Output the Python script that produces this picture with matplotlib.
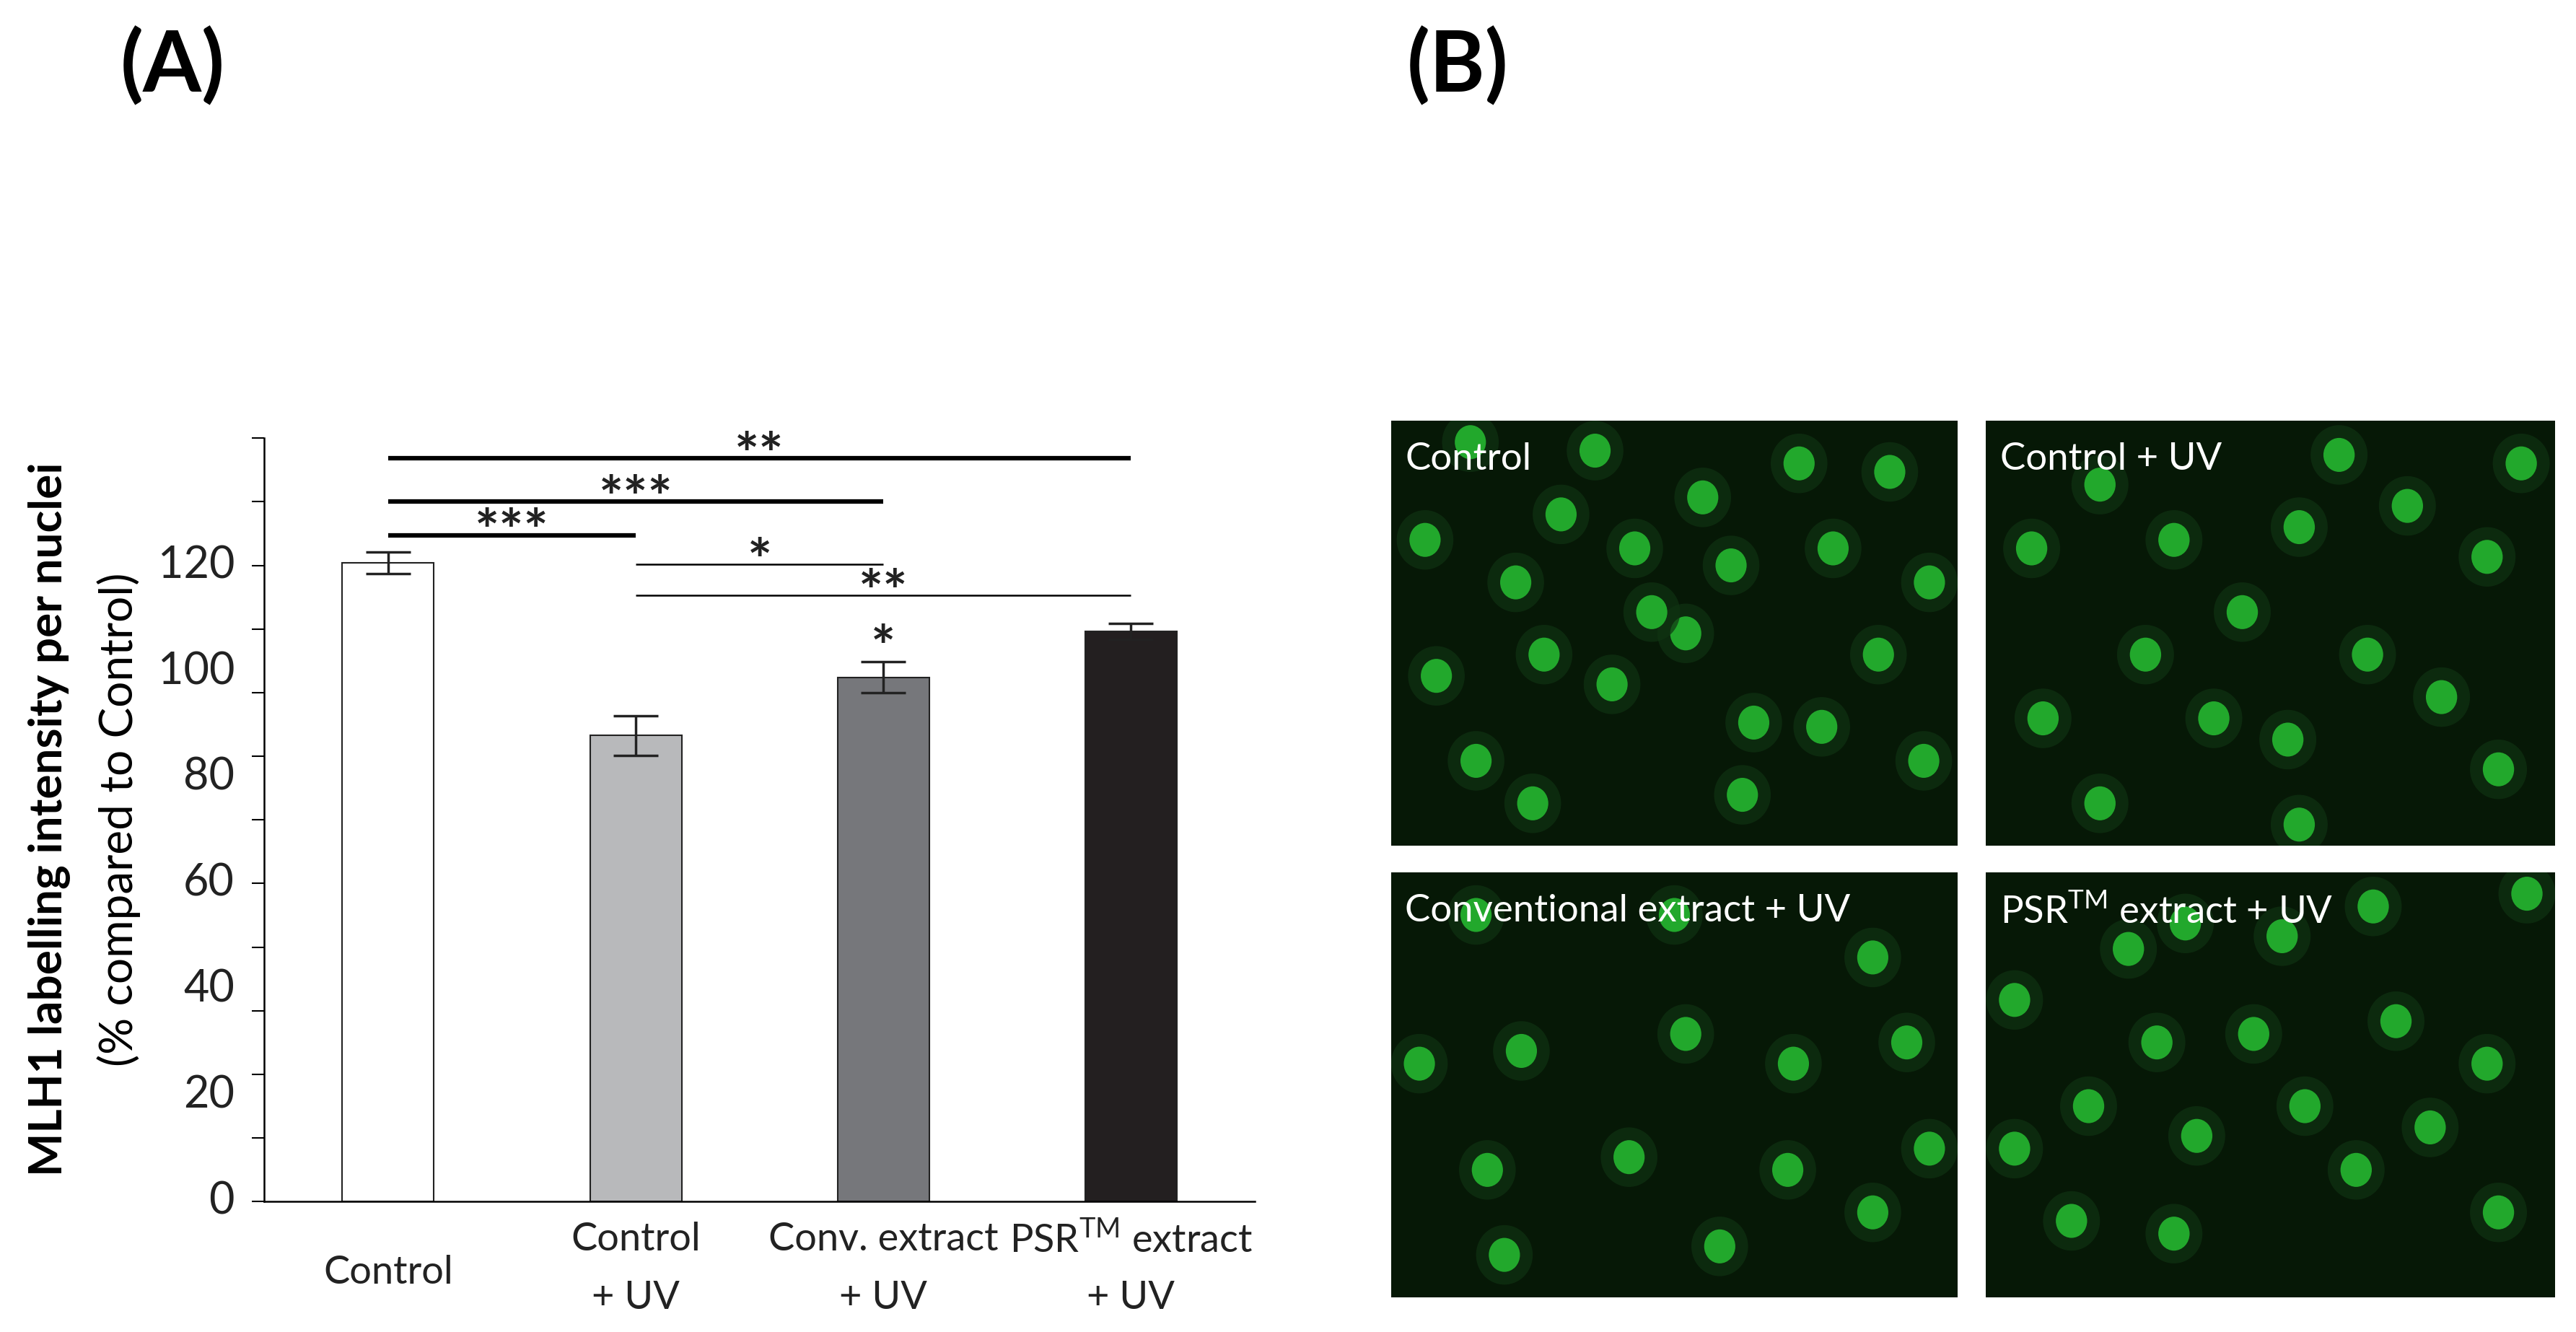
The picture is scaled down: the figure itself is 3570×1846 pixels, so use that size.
import numpy as np
import matplotlib.pyplot as plt
from matplotlib.patches import Ellipse

plt.rcParams['font.family'] = ['Lato', 'DejaVu Sans']

# ---------------- data ----------------
label_line1 = ['', 'Control', 'Conv. extract', 'PSR$^{\\mathregular{TM}}$ extract']
label_line2 = ['Control', '+ UV', '+ UV', '+ UV']
means = [120.5, 87.9, 98.9, 107.5]
errors = [2.0, 3.7, 2.9, 1.5]
bar_colors = ['white', '#b8b9bb', '#76777b', '#231f20']
y_labels = [0, 20, 40, 60, 80, 100, 120]

# significance brackets: (from bar, to bar, height, text, thick)
brackets = [(0, 3, 140.2, '**', True),
            (0, 2, 132.0, '***', True),
            (0, 1, 125.7, '***', True),
            (1, 2, 120.2, '*', False),
            (1, 3, 114.3, '**', False)]

panel_titles = ['Control', 'Control + UV', 'Conventional extract + UV', 'PSR$^{\\mathregular{TM}}$ extract + UV']
# rough nucleus positions (x, y in panel fraction) per microscopy panel
nuclei = [
    [(0.06, 0.72), (0.14, 0.95), (0.22, 0.62), (0.30, 0.78), (0.36, 0.93), (0.43, 0.70),
     (0.55, 0.82), (0.60, 0.66), (0.72, 0.90), (0.78, 0.70), (0.88, 0.88), (0.95, 0.62),
     (0.08, 0.40), (0.15, 0.20), (0.27, 0.45), (0.39, 0.38), (0.52, 0.50), (0.64, 0.29),
     (0.76, 0.28), (0.86, 0.45), (0.94, 0.20), (0.25, 0.10), (0.62, 0.12), (0.46, 0.55)],
    [(0.08, 0.70), (0.20, 0.85), (0.33, 0.72), (0.45, 0.55), (0.55, 0.75), (0.62, 0.92),
     (0.74, 0.80), (0.88, 0.68), (0.94, 0.90), (0.10, 0.30), (0.28, 0.45), (0.40, 0.30),
     (0.53, 0.25), (0.67, 0.45), (0.80, 0.35), (0.90, 0.18), (0.55, 0.05), (0.20, 0.10)],
    [(0.15, 0.90), (0.50, 0.90), (0.85, 0.80), (0.05, 0.55), (0.23, 0.58), (0.52, 0.62),
     (0.71, 0.55), (0.91, 0.60), (0.17, 0.30), (0.42, 0.33), (0.70, 0.30), (0.85, 0.20),
     (0.20, 0.10), (0.58, 0.12), (0.95, 0.35)],
    [(0.25, 0.82), (0.35, 0.88), (0.52, 0.85), (0.68, 0.92), (0.95, 0.95), (0.05, 0.70),
     (0.30, 0.60), (0.47, 0.62), (0.72, 0.65), (0.88, 0.55), (0.18, 0.45), (0.37, 0.38),
     (0.56, 0.45), (0.78, 0.40), (0.15, 0.18), (0.33, 0.15), (0.65, 0.30), (0.90, 0.20),
     (0.05, 0.35)],
]

# ---------------- figure ----------------
fig = plt.figure(figsize=(35.7, 18.46), dpi=100)

ax = fig.add_axes([0.1026, 0.098, 0.3845, 0.573])
x = np.arange(len(means))
ax.bar(x, means, width=0.37, color=bar_colors, edgecolor='#222222', linewidth=1.5, zorder=2)
ax.errorbar(x, means, yerr=errors, fmt='none', ecolor='#222222', elinewidth=2.5,
            capsize=22, capthick=2.5, zorder=3)

for i, j, h, txt, thick in brackets:
    ax.plot([x[i], x[j]], [h, h], color='black', lw=4.5 if thick else 1.8, solid_capstyle='butt')
    ax.text((x[i] + x[j]) / 2, h - 5.0, txt, ha='center', va='bottom', fontsize=58,
            fontweight='bold', color='#222222')
ax.text(x[2], means[2] + errors[2] - 3.0, '*', ha='center', va='bottom', fontsize=58,
        fontweight='bold', color='#222222')

ax.set_xlim(-0.5, 3.5)
ax.set_ylim(0, 144)
ax.set_yticks(np.arange(0, 145, 12))
ax.set_yticklabels([])
for v in y_labels:
    ax.text(-0.62, v, str(v), ha='right', va='center', fontsize=44, color='#222222')
ax.set_xticks([])
for xi, l1, l2 in zip(x, label_line1, label_line2):
    if l1:
        ax.text(xi, -7.2, l1, ha='center', va='center', fontsize=39, color='#222222', clip_on=False)
        ax.text(xi, -18.2, l2, ha='center', va='center', fontsize=39, color='#222222', clip_on=False)
    else:
        ax.text(xi, -13.4, l2, ha='center', va='center', fontsize=39, color='#222222', clip_on=False)
ax.tick_params(axis='y', length=12, width=1.5, direction='out')
for s in ['top', 'right']:
    ax.spines[s].set_visible(False)
ax.spines['left'].set_linewidth(1.8)
ax.spines['bottom'].set_linewidth(1.8)

fig.text(0.019, 0.385, 'MLH1 labelling intensity per nuclei', rotation=90, ha='center', va='center',
         fontsize=46, fontweight='bold')
fig.text(0.046, 0.385, '(% compared to Control)', rotation=90, ha='center', va='center', fontsize=46)

fig.text(0.067, 0.95, '(A)', fontsize=84, fontweight='bold', ha='center', va='center')
fig.text(0.566, 0.95, '(B)', fontsize=84, fontweight='bold', ha='center', va='center')

# ---------------- microscopy panels ----------------
boxes = [[0.540, 0.365, 0.220, 0.319], [0.771, 0.365, 0.221, 0.319],
         [0.540, 0.026, 0.220, 0.319], [0.771, 0.026, 0.221, 0.319]]
for k, b in enumerate(boxes):
    pax = fig.add_axes(b)
    pax.set_facecolor('#061806')
    pax.set_xlim(0, 1)
    pax.set_ylim(0, 1)
    for (nx, ny) in nuclei[k]:
        pax.add_patch(Ellipse((nx, ny), 0.10, 0.14, color='#0f3312', alpha=0.7, lw=0))
        pax.add_patch(Ellipse((nx, ny), 0.055, 0.08, color='#22a82c', lw=0))
    pax.set_xticks([])
    pax.set_yticks([])
    for s in pax.spines.values():
        s.set_visible(False)
    pax.text(0.025, 0.95, panel_titles[k], transform=pax.transAxes, color='white',
             fontsize=38, va='top', ha='left')

fig.savefig('out.png', dpi=100, facecolor='white')
